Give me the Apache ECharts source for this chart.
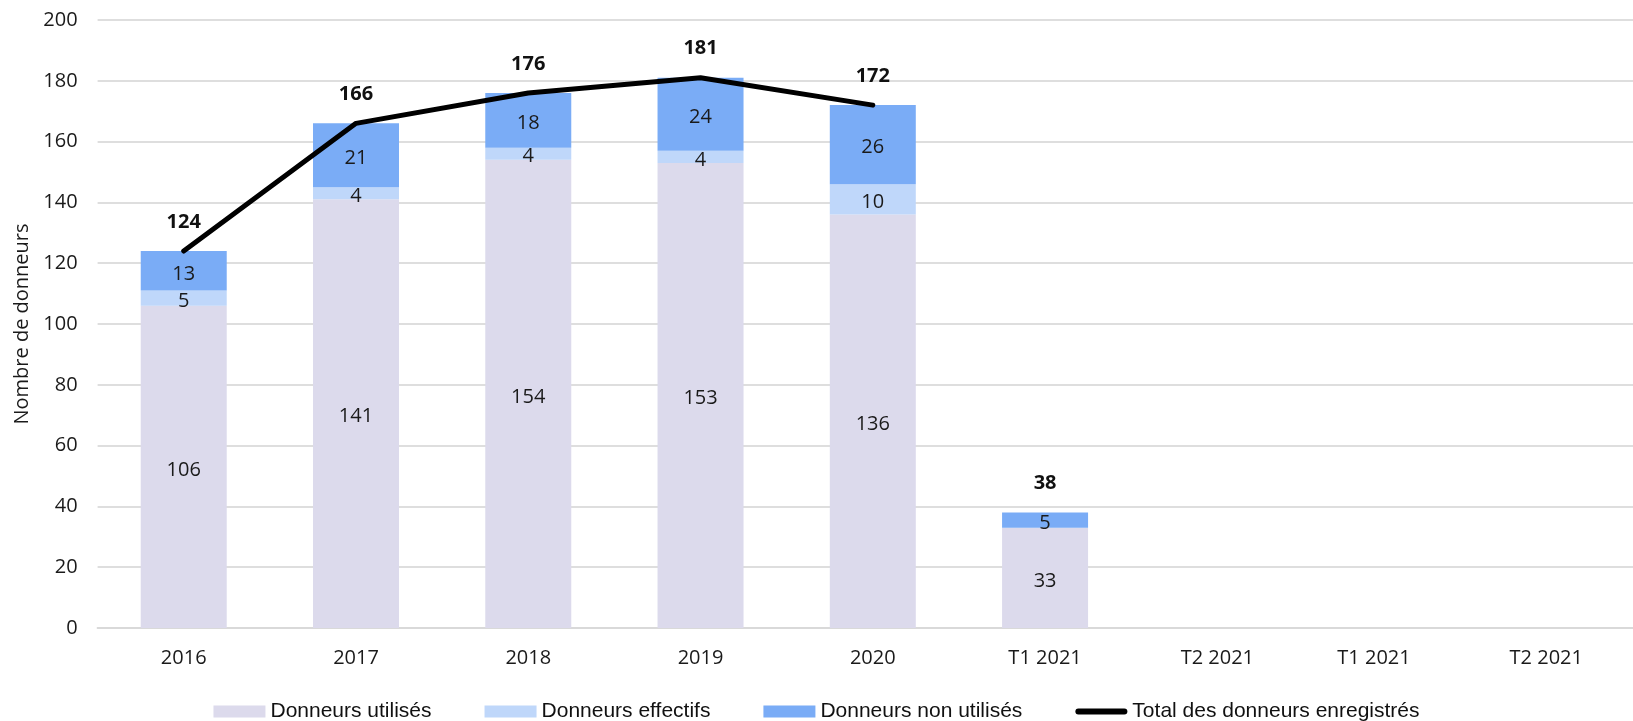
<!DOCTYPE html>
<html>
<head>
<meta charset="utf-8">
<script src="https://cdn.jsdelivr.net/npm/echarts@6/dist/echarts.min.js"></script>
<style>
  html, body { margin: 0; padding: 0; background: #fff; }
  #chart { width: 1633px; height: 721px; }
</style>
</head>
<body>
<div id="chart"></div>
<script>
const categories = ['2016', '2017', '2018', '2019', '2020', 'T1 2021', 'T2 2021', 'T1 2021 ', 'T2 2021 '];
const utilises = [106, 141, 154, 153, 136, 33, null, null, null];
const effectifs = [5, 4, 4, 4, 10, null, null, null, null];
const nonUtilises = [13, 21, 18, 24, 26, 5, null, null, null];
const totalLine = [124, 166, 176, 181, 172, null, null, null, null];
const totalT1 = [null, null, null, null, null, 38, null, null, null];

const FONT = '"Open Sans", sans-serif';

function renderDonneurs() {
  const chart = echarts.init(document.getElementById('chart'));

  const barLabel = {
    show: true,
    position: 'inside',
    offset: [0, 3],
    color: '#1a1a1a',
    fontSize: 20,
    fontFamily: FONT
  };
  const totalLabel = {
    show: true,
    position: 'top',
    distance: 19,
    color: '#111',
    fontSize: 20,
    fontWeight: 'bold',
    fontFamily: FONT
  };

  // les deux derniers libellés sont décalés vers la gauche (coupés à droite dans l'original)
  const xData = categories.map((c, i) => i >= 7 ? { value: c, textStyle: { padding: [0, 26, 0, 0] } } : c);

  chart.setOption({
    animation: false,
    textStyle: { fontFamily: FONT },
    grid: { left: 97.6, right: -15, top: 20, bottom: 93, outerBoundsMode: 'none', containLabel: false },
    legend: {
      left: 'center',
      top: 696,
      itemWidth: 52,
      itemHeight: 12,
      itemGap: 53,
      textStyle: { fontFamily: '"Liberation Sans", sans-serif', fontSize: 21, color: '#111' },
      data: [
        { name: 'Donneurs utilisés', icon: 'rect' },
        { name: 'Donneurs effectifs', icon: 'rect' },
        { name: 'Donneurs non utilisés', icon: 'rect' },
        {
          name: 'Total des donneurs enregistrés',
          icon: 'path://M3,0 L49,0 A3,3 0 0 1 49,6 L3,6 A3,3 0 0 1 3,0 Z',
          itemStyle: { color: '#000' }
        }
      ]
    },
    xAxis: {
      type: 'category',
      data: xData,
      axisLine: { lineStyle: { color: '#d9d9d9', width: 2 } },
      axisTick: { show: false },
      axisLabel: { fontSize: 20, color: '#1a1a1a', margin: 20 }
    },
    yAxis: {
      type: 'value',
      min: 0,
      max: 200,
      interval: 20,
      name: 'Nombre de donneurs',
      nameLocation: 'middle',
      nameGap: 65,
      nameTextStyle: { fontSize: 20, color: '#1a1a1a' },
      axisLabel: { fontSize: 20, color: '#1a1a1a', margin: 20 },
      splitLine: { lineStyle: { color: '#dedede', width: 2 } }
    },
    series: [
      {
        name: 'Donneurs utilisés',
        type: 'bar',
        stack: 'total',
        barWidth: 86,
        data: utilises,
        itemStyle: { color: '#dcdaec' },
        label: barLabel
      },
      {
        name: 'Donneurs effectifs',
        type: 'bar',
        stack: 'total',
        data: effectifs,
        itemStyle: { color: '#bfd7fa' },
        label: barLabel
      },
      {
        name: 'Donneurs non utilisés',
        type: 'bar',
        stack: 'total',
        data: nonUtilises,
        itemStyle: { color: '#7aacf6' },
        label: barLabel
      },
      {
        name: 'Total des donneurs enregistrés',
        type: 'line',
        data: totalLine,
        showSymbol: true,
        symbolSize: 0,
        lineStyle: { color: '#000', width: 5, cap: 'round' },
        itemStyle: { color: '#000' },
        label: totalLabel,
        z: 5
      },
      {
        // étiquette du total T1 2021 (sans ligne)
        name: 'total-t1',
        type: 'scatter',
        data: totalT1,
        symbolSize: 0,
        itemStyle: { color: '#000', opacity: 1 },
        label: totalLabel,
        z: 5
      }
    ]
  });

  window.addEventListener('resize', () => chart.resize());
}

renderDonneurs();
</script>
</body>
</html>
